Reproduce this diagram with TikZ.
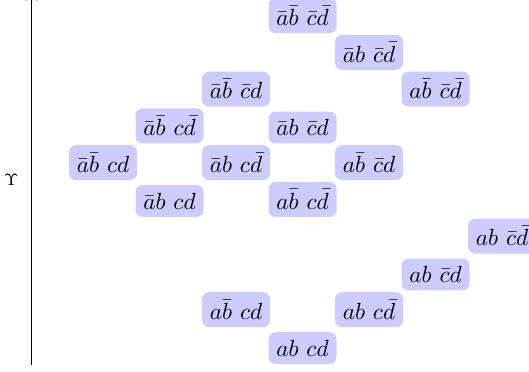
\documentclass[tikz,border=0pt]{standalone}
\usepackage{amsmath}
\usepackage{amssymb}
\usepackage{tikz}
\usetikzlibrary{arrows.meta}

\begin{document}
\begin{tikzpicture}
            \tikzset{world/.style={fill=blue!20, rounded corners=3pt, anchor=base},
                    >={To[black]}}
            \useasboundingbox (0, 0) rectangle (7.955, -5.594);
            % axis
            \coordinate (bot) at (0.474, -5.49);
            \coordinate (top) at (0.474, 0.08);
            \draw [->] (bot) -- (top) node[midway, left=2pt] {$\scriptstyle\Upsilon$};
            % worlds
            \node[world] (1) at (4.55, -0.380) {$\bar{a}\bar{b}$ $\bar{c}\bar{d}$};
            \node[world] (2) at (5.55, -0.933) {$\bar{a}b$ $\bar{c}\bar{d}$};
            \node[world] (3) at (3.55, -1.486) {$\bar{a}\bar{b}$ $\bar{c}d$};
            \node[world] (4) at (6.55, -1.486) {$a\bar{b}$ $\bar{c}\bar{d}$};
            \node[world] (5) at (2.55, -2.039) {$\bar{a}\bar{b}$ $c\bar{d}$};
            \node[world] (6) at (4.55, -2.039) {$\bar{a}b$ $\bar{c}d$};
            \node[world] (7) at (1.55, -2.592) {$\bar{a}\bar{b}$ $cd$};
            \node[world] (8) at (3.55, -2.592) {$\bar{a}b$ $c\bar{d}$};
            \node[world] (9) at (5.55, -2.592) {$a\bar{b}$ $\bar{c}d$};
            \node[world] (10) at (2.55, -3.145) {$\bar{a}b$ $cd$};
            \node[world] (11) at (4.55, -3.145) {$a\bar{b}$ $c\bar{d}$};
            \node[world] (12) at (7.55, -3.698) {$ab$ $\bar{c}\bar{d}$};
            \node[world] (13) at (6.55, -4.251) {$ab$ $\bar{c}d$};
            \node[world] (14) at (3.55, -4.804) {$a\bar{b}$ $cd$};
            \node[world] (15) at (5.55, -4.804) {$ab$ $c\bar{d}$};
            \node[world] (16) at (4.55, -5.357) {$ab$ $cd$};
        \end{tikzpicture}
\end{document}
